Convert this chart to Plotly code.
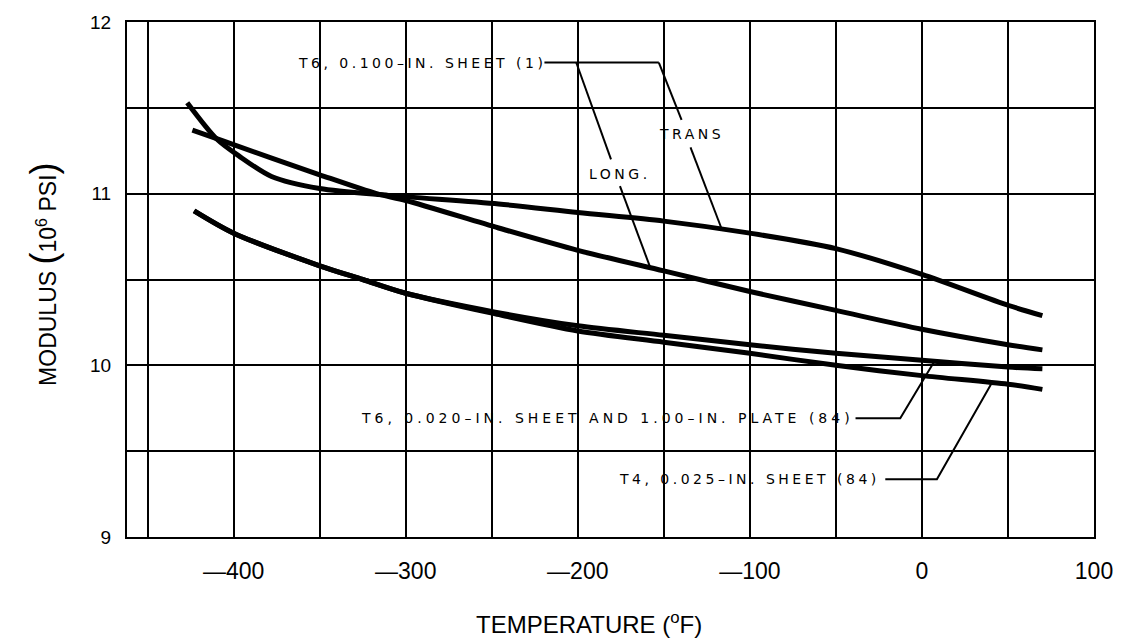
import plotly.graph_objects as go

# ---- data ----
trans_x = [-427, -410, -397, -378, -350, -310, -246, -200, -150, -100, -50, 0, 50, 70]
trans_y = [11.53, 11.32, 11.22, 11.10, 11.03, 10.99, 10.94, 10.89, 10.84, 10.77, 10.68, 10.53, 10.35, 10.29]

long_x = [-424, -407, -350, -317, -300, -246, -200, -150, -100, -50, 0, 50, 70]
long_y = [11.37, 11.31, 11.11, 11.00, 10.96, 10.80, 10.67, 10.55, 10.43, 10.32, 10.21, 10.12, 10.09]

t6_x = [-423, -400, -350, -325, -300, -248, -200, -150, -100, -50, 0, 50, 70]
t6_y = [10.90, 10.77, 10.58, 10.50, 10.42, 10.31, 10.23, 10.175, 10.12, 10.07, 10.03, 9.99, 9.98]

t4_x = [-423, -400, -350, -325, -300, -248, -200, -150, -100, -50, 0, 50, 70]
t4_y = [10.90, 10.77, 10.58, 10.50, 10.42, 10.30, 10.20, 10.135, 10.07, 10.00, 9.94, 9.89, 9.86]

x_tickvals = [-400, -300, -200, -100, 0, 100]
x_ticktext = ["\u2014400", "\u2014300", "\u2014200", "\u2014100", "0", "100"]
y_tickvals = [9, 10, 11, 12]
y_ticktext = ["9", "10", "11", "12"]

# leader lines (data coordinates)
lead_top_x = [-219.4, -152.9]
lead_top_y = [11.764, 11.764]
lead_long1_x = [-200.9, -180.7]
lead_long1_y = [11.764, 11.20]
lead_long2_x = [-175.5, -158.2]
lead_long2_y = [11.044, 10.578]
lead_trans1_x = [-152.9, -139.7]
lead_trans1_y = [11.764, 11.43]
lead_trans2_x = [-134.5, -116.6]
lead_trans2_y = [11.27, 10.80]
lead_t6_x = [-38.6, -12.6, 7.0]
lead_t6_y = [9.692, 9.692, 10.02]
lead_t4_x = [-21.3, 8.7, 40.5]
lead_t4_y = [9.337, 9.337, 9.895]

FONT = "Liberation Sans"
LFONT = "DejaVu Sans"

fig = go.Figure()
for xs, ys in [(trans_x, trans_y), (long_x, long_y), (t6_x, t6_y), (t4_x, t4_y)]:
    fig.add_trace(go.Scatter(x=xs, y=ys, mode="lines",
                             line=dict(color="black", width=5, shape="spline", smoothing=0.8),
                             hoverinfo="skip", showlegend=False))
for xs, ys in [(lead_top_x, lead_top_y), (lead_long1_x, lead_long1_y), (lead_long2_x, lead_long2_y),
               (lead_trans1_x, lead_trans1_y), (lead_trans2_x, lead_trans2_y),
               (lead_t6_x, lead_t6_y), (lead_t4_x, lead_t4_y)]:
    fig.add_trace(go.Scatter(x=xs, y=ys, mode="lines", line=dict(color="black", width=2),
                             hoverinfo="skip", showlegend=False))

def lab(text, x, y, anchor="left", sp=3.5):
    fig.add_annotation(x=x, y=y, xref="x", yref="y",
                       text=f"<span style='letter-spacing:{sp}px'>{text}</span>",
                       showarrow=False, xanchor=anchor, yanchor="middle",
                       font=dict(family=LFONT, size=14, color="black"))

lab("T6, 0.100\u2013IN. SHEET (1)", -364, 11.764)
lab("TRANS", -134.1, 11.35, "center")
lab("LONG.", -175.5, 11.113, "center")
lab("T6, 0.020\u2013IN. SHEET AND 1.00\u2013IN. PLATE (84)", -327.4, 9.692, sp=4)
lab("T4, 0.025\u2013IN. SHEET (84)", -177.2, 9.337)

fig.add_annotation(xref="paper", yref="paper", x=0.478, y=-0.167, showarrow=False,
                   text="TEMPERATURE (<sup>o</sup>F)", xanchor="center", yanchor="middle",
                   font=dict(family=FONT, size=24, color="black"))
fig.add_annotation(xref="paper", yref="paper", x=-0.0863, y=0.51, showarrow=False, textangle=-90,
                   text="MODULUS <span style='font-size:36px'>(</span>10<sup>6</sup> PSI<span style='font-size:36px'>)</span>",
                   xanchor="center", yanchor="middle",
                   font=dict(family=FONT, size=23, color="black"))

fig.update_layout(
    width=1125, height=639,
    margin=dict(l=127, r=25, t=16, b=102),
    paper_bgcolor="white", plot_bgcolor="white",
    font=dict(family=FONT, color="black"),
)
fig.update_xaxes(range=[-462, 100], tickvals=x_tickvals, ticktext=x_ticktext,
                 showgrid=True, gridcolor="black", gridwidth=2,
                 minor=dict(dtick=50, tick0=0, showgrid=True, gridcolor="black", gridwidth=2),
                 showline=True, linecolor="black", linewidth=2, mirror=True,
                 ticks="", ticklabelstandoff=12, zeroline=False,
                 tickfont=dict(family=FONT, size=23, color="black"))
fig.update_yaxes(range=[9, 12], tickvals=y_tickvals, ticktext=y_ticktext,
                 showgrid=True, gridcolor="black", gridwidth=2,
                 minor=dict(dtick=0.5, tick0=0, showgrid=True, gridcolor="black", gridwidth=2),
                 showline=True, linecolor="black", linewidth=2, mirror=True,
                 ticks="", ticklabelstandoff=10, zeroline=False,
                 tickfont=dict(family=FONT, size=19, color="black"))

fig.write_html("out.html")
